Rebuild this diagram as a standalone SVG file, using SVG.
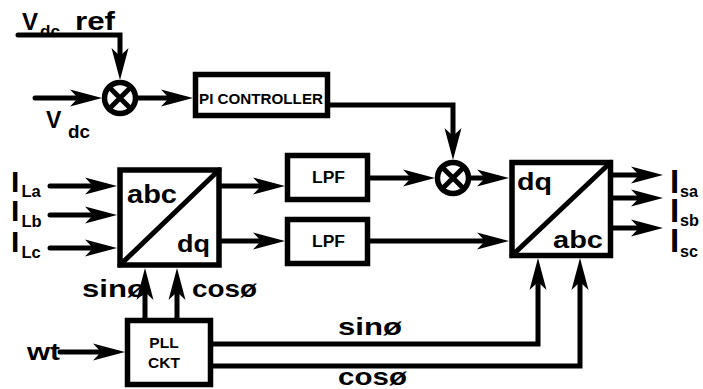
<svg xmlns="http://www.w3.org/2000/svg" width="703" height="389" viewBox="0 0 703 389">
<style>
.bx{fill:#fff;stroke:#000;stroke-width:5.5}
.ln{fill:none;stroke:#000;stroke-width:5;stroke-linejoin:miter;stroke-linecap:round}
.arr{marker-end:url(#ah)}
text{font-family:"Liberation Sans",Arial,sans-serif;font-weight:bold;fill:#000}
</style>
<defs>
<marker id="ah" markerUnits="userSpaceOnUse" orient="auto" refX="0" refY="0" markerWidth="40" markerHeight="20" overflow="visible">
<path d="M20,0 L-12,-8.5 L-4,0 L-12,8.5 Z" fill="#000"/>
</marker>
</defs>
<rect width="703" height="389" fill="#fff"/>

<g id="connectors">
<path class="ln arr" d="M18,35 H120 V60"/>
<path class="ln arr" d="M35,98 H82"/>
<path class="ln arr" d="M138,98 H173"/>
<path class="ln arr" d="M327,105 H453 V140"/>
<path class="ln arr" d="M50,186 H97"/>
<path class="ln arr" d="M50,215 H97"/>
<path class="ln arr" d="M50,248 H97"/>
<path class="ln arr" d="M222,186 H265"/>
<path class="ln arr" d="M222,241 H265"/>
<path class="ln arr" d="M370,178 H415"/>
<path class="ln arr" d="M471,178 H489"/>
<path class="ln arr" d="M370,241 H489"/>
<path class="ln arr" d="M613,175 H643"/>
<path class="ln arr" d="M613,198 H643"/>
<path class="ln arr" d="M613,228 H643"/>
<path class="ln arr" d="M145,318 V288"/>
<path class="ln arr" d="M177,318 V288"/>
<path class="ln arr" d="M60,352 H105"/>
<path class="ln arr" d="M213,344 H538 V278"/>
<path class="ln arr" d="M213,366 H580 V278"/>
</g>

<g id="sum1">
<circle class="bx" cx="120" cy="98" r="15.5"/>
<path class="ln" d="M109,87 L131,109 M131,87 L109,109"/>
</g>
<g id="sum2">
<circle class="bx" cx="453" cy="178" r="15.5"/>
<path class="ln" d="M442,167 L464,189 M464,167 L442,189"/>
</g>

<g id="pi">
<rect class="bx" x="195.5" y="74.5" width="132" height="41"/>
<text x="199" y="104" font-size="14" textLength="124" lengthAdjust="spacingAndGlyphs">PI CONTROLLER</text>
</g>

<g id="abc2dq">
<rect class="bx" x="120" y="170" width="99" height="95"/>
<path class="ln" d="M120,265 L219,170"/>
<text x="127" y="203" font-size="25" textLength="50" lengthAdjust="spacingAndGlyphs">abc</text>
<text x="177" y="252" font-size="24" textLength="33" lengthAdjust="spacingAndGlyphs">dq</text>
</g>

<g id="lpf1">
<rect class="bx" x="287.5" y="155.5" width="80" height="44"/>
<text x="312" y="183" font-size="16" textLength="33" lengthAdjust="spacingAndGlyphs">LPF</text>
</g>
<g id="lpf2">
<rect class="bx" x="287.5" y="219.5" width="80" height="44"/>
<text x="312" y="247" font-size="16" textLength="33" lengthAdjust="spacingAndGlyphs">LPF</text>
</g>

<g id="dq2abc">
<rect class="bx" x="512" y="162.5" width="98.5" height="93"/>
<path class="ln" d="M512,255.5 L610.5,162.5"/>
<text x="517" y="190" font-size="24" textLength="35" lengthAdjust="spacingAndGlyphs">dq</text>
<text x="553" y="248" font-size="24" textLength="50" lengthAdjust="spacingAndGlyphs">abc</text>
</g>

<g id="pll">
<rect class="bx" x="127.5" y="320.5" width="83" height="64"/>
<text x="164" y="348" font-size="15.5" text-anchor="middle">PLL</text>
<text x="164" y="368" font-size="15.5" text-anchor="middle">CKT</text>
</g>

<g id="labels">
<text x="22" y="30" font-size="24">V</text>
<text x="40" y="37" font-size="17" textLength="20" lengthAdjust="spacingAndGlyphs">dc</text>
<text x="75" y="30" font-size="25" textLength="40" lengthAdjust="spacingAndGlyphs">ref</text>
<text x="46" y="128" font-size="23">V</text>
<text x="68" y="138" font-size="18" textLength="22" lengthAdjust="spacingAndGlyphs">dc</text>

<text x="11" y="192" font-size="30">I</text>
<text x="21.5" y="197" font-size="16.5">La</text>
<text x="11" y="221" font-size="30">I</text>
<text x="21.5" y="227" font-size="16.5">Lb</text>
<text x="11" y="252" font-size="30">I</text>
<text x="21.5" y="258" font-size="16.5">Lc</text>

<text x="670" y="193" font-size="33">I</text>
<text x="680" y="197" font-size="17" textLength="18" lengthAdjust="spacingAndGlyphs">sa</text>
<text x="670" y="222" font-size="33">I</text>
<text x="680" y="226" font-size="17" textLength="19" lengthAdjust="spacingAndGlyphs">sb</text>
<text x="670" y="252" font-size="33">I</text>
<text x="680" y="257" font-size="17" textLength="18" lengthAdjust="spacingAndGlyphs">sc</text>

<text x="82" y="297" font-size="24" textLength="64" lengthAdjust="spacingAndGlyphs">sinø</text>
<text x="192" y="297" font-size="24" textLength="65" lengthAdjust="spacingAndGlyphs">cosø</text>
<text x="27" y="360" font-size="23" textLength="33" lengthAdjust="spacingAndGlyphs">wt</text>
<text x="338" y="335" font-size="24" textLength="64" lengthAdjust="spacingAndGlyphs">sinø</text>
<text x="338" y="385" font-size="24" textLength="69" lengthAdjust="spacingAndGlyphs">cosø</text>
</g>
</svg>
